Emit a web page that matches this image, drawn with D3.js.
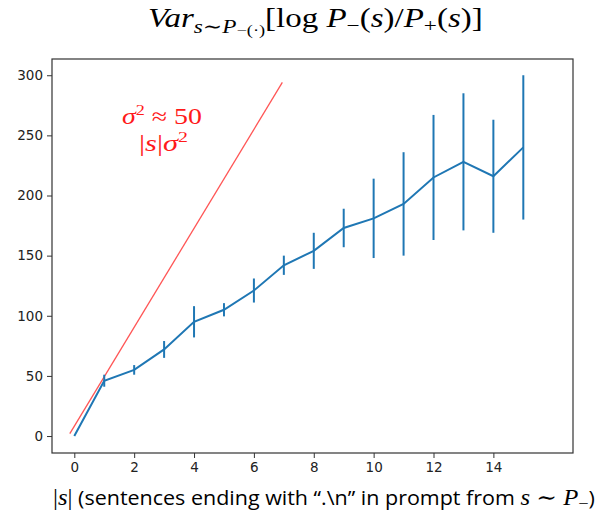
<!DOCTYPE html>
<html><head><meta charset="utf-8">
<script src="https://cdn.jsdelivr.net/npm/d3@7"></script>
<style>body{margin:0;background:#fff}svg{display:block}</style>
</head><body>
<svg id="c" width="602" height="514"></svg>
<script>
const sizes = [0,1,2,3,4,5,6,7,8,9,10,11,12,13,14,15];
const varMean = [0,46,55,72,95,105,121,142,154,173,181,193,215,228,216,240];
const varErr  = [0,5,4,7,13,5.5,10,8,15,16,33,43,52,57,47,60];
const refLineX = [-0.15, 6.95];
const refLineY = [2, 294];
const xTicks = [0,2,4,6,8,10,12,14];
const yTicks = [0,50,100,150,200,250,300];

const svg = d3.select('#c');
const L=52, R=573, T=59, B=453;
const x = d3.scaleLinear().domain([-0.745,16.66]).range([L,R]);
const y = d3.scaleLinear().domain([-14.1,313.5]).range([B,T]);

const serif = "'Liberation Serif','DejaVu Serif',serif";

// stretch a text group horizontally so its ink spans x0..x1
function fitX(g, x0, x1){
  const bb = g.node().getBBox();
  const sx = (x1-x0)/bb.width;
  g.attr('transform',`translate(${x0 - bb.x*sx},0) scale(${sx},1)`);
}

// title
const tg = svg.append('g');
const tt = tg.append('text').attr('x',0).attr('y',27)
  .attr('font-family',serif).attr('font-size',27).attr('fill','#000');
tt.append('tspan').attr('font-style','italic').text('Var');
tt.append('tspan').attr('font-style','italic').attr('font-size',19).attr('dy',6).text('s∼P');
tt.append('tspan').attr('font-size',15).attr('dy',2).text('−(·)');
tt.append('tspan').attr('dy',-8).text('[log ');
tt.append('tspan').attr('font-style','italic').text('P');
tt.append('tspan').attr('font-size',19).attr('dy',5).text('−');
tt.append('tspan').attr('dy',-5).text('(');
tt.append('tspan').attr('font-style','italic').text('s');
tt.append('tspan').text(')/');
tt.append('tspan').attr('font-style','italic').text('P');
tt.append('tspan').attr('font-size',19).attr('dy',5).text('+');
tt.append('tspan').attr('dy',-5).text('(');
tt.append('tspan').attr('font-style','italic').text('s');
tt.append('tspan').text(')]');
fitX(tg,148,483);

// axes
const xa = svg.append('g').attr('transform',`translate(0,${B})`)
  .call(d3.axisBottom(x).tickValues(xTicks).tickSize(5).tickPadding(4).tickSizeOuter(0));
const ya = svg.append('g').attr('transform',`translate(${L},0)`)
  .call(d3.axisLeft(y).tickValues(yTicks).tickSize(5).tickPadding(4).tickSizeOuter(0));
[xa,ya].forEach(a=>{
  a.select('.domain').remove();
  a.selectAll('line').attr('stroke','#333').attr('stroke-width',1);
  a.selectAll('text').attr('font-family',"'DejaVu Sans',sans-serif").attr('font-size',13.5).attr('fill','#222');
});
svg.append('rect').attr('x',L).attr('y',T).attr('width',R-L).attr('height',B-T)
  .attr('fill','none').attr('stroke','#333').attr('stroke-width',1.2);

// reference line
svg.append('line').attr('x1',x(refLineX[0])).attr('y1',y(refLineY[0]))
  .attr('x2',x(refLineX[1])).attr('y2',y(refLineY[1]))
  .attr('stroke','#ff5555').attr('stroke-width',1.3);

// series
const blue='#1f77b4';
svg.append('path').datum(sizes.map((s,i)=>[s,varMean[i]]))
  .attr('d',d3.line().x(d=>x(d[0])).y(d=>y(d[1])))
  .attr('fill','none').attr('stroke',blue).attr('stroke-width',2);
svg.selectAll('.eb').data(sizes).enter().append('line')
  .attr('x1',d=>x(d)).attr('x2',d=>x(d))
  .attr('y1',(d,i)=>y(varMean[i]-varErr[i])).attr('y2',(d,i)=>y(varMean[i]+varErr[i]))
  .attr('stroke',blue).attr('stroke-width',2);

// red annotation
const red='#ff1a1a';
const g1 = svg.append('g');
const a1 = g1.append('text').attr('x',0).attr('y',124)
  .attr('font-family',serif).attr('font-size',23).attr('fill',red);
a1.append('tspan').attr('font-style','italic').text('σ');
a1.append('tspan').attr('font-size',15).attr('dy',-9).text('2');
a1.append('tspan').attr('dy',9).text(' ≈ 50');
fitX(g1,122,202);
const g2 = svg.append('g');
const a2 = g2.append('text').attr('x',0).attr('y',151)
  .attr('font-family',serif).attr('font-size',23).attr('fill',red);
a2.append('tspan').text('|');
a2.append('tspan').attr('font-style','italic').text('s');
a2.append('tspan').text('|');
a2.append('tspan').attr('font-style','italic').text('σ');
a2.append('tspan').attr('font-size',15).attr('dy',-9).text('2');
fitX(g2,139,188);

// x label
const gx = svg.append('g');
const xl = gx.append('text').attr('x',0).attr('y',505)
  .attr('font-family',"'Open Sans','Noto Sans',sans-serif").attr('font-size',20).attr('fill','#000');
xl.append('tspan').attr('font-family',serif).attr('font-size',23).text('|');
xl.append('tspan').attr('font-family',serif).attr('font-size',23).attr('font-style','italic').text('s');
xl.append('tspan').attr('font-family',serif).attr('font-size',23).text('|');
xl.append('tspan').text(' (sentences ending with “.\\n” in prompt from ');
xl.append('tspan').attr('font-family',serif).attr('font-size',23).attr('font-style','italic').text('s');
xl.append('tspan').attr('font-family',serif).attr('font-size',23).text(' ∼ ');
xl.append('tspan').attr('font-family',serif).attr('font-size',23).attr('font-style','italic').text('P');
xl.append('tspan').attr('font-family',serif).attr('font-size',17).attr('dy',4).text('−');
xl.append('tspan').attr('dy',-4).text(')');
fitX(gx,53,595);
</script>
</body></html>
